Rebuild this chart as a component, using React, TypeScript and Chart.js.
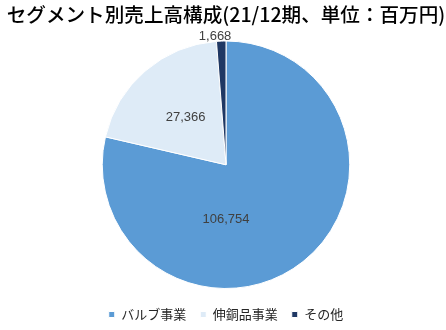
import React, { useEffect, useRef } from "react";
import { Chart, registerables } from "chart.js";

Chart.register(...registerables);

const titleText = "セグメント別売上高構成(21/12期、単位：百万円)";
const segments = ["バルブ事業", "伸銅品事業", "その他"];
const sales = [106754, 27366, 1668];
const colors = ["#5B9BD5", "#DEEBF7", "#1F3864"];

// label placement style per slice: fixed angle (deg from top, clockwise) or bisector, & radius factor
const labelPlacement = [
  { absAngle: 180 as number | null, r: 0.44 },
  { absAngle: null as number | null, r: 0.5 },
  { absAngle: null as number | null, r: 1.03 },
];

const labelPlugin = {
  id: "sliceLabels",
  afterLayout(chart: any) {
    if (chart.legend) {
      chart.legend.top += 5;
      chart.legend.bottom += 5;
    }
  },
  afterDatasetsDraw(chart: any) {
    const meta = chart.getDatasetMeta(0);
    const ctx = chart.ctx;
    ctx.save();
    ctx.font = "13px 'Liberation Sans', Arial, sans-serif";
    ctx.fillStyle = "#404040";
    ctx.textAlign = "center";
    ctx.textBaseline = "middle";
    meta.data.forEach((arc: any, i: number) => {
      const p = arc.getProps(["x", "y", "startAngle", "endAngle", "outerRadius"], true);
      const pl = labelPlacement[i];
      let ang = (p.startAngle + p.endAngle) / 2;
      if (pl.absAngle !== null) ang = ((pl.absAngle - 90) * Math.PI) / 180;
      const rr = p.outerRadius * pl.r;
      let x = p.x + Math.cos(ang) * rr;
      let y = p.y + Math.sin(ang) * rr;
      if (pl.r > 1) {
        y -= 1;
        x -= 6;
      }
      ctx.fillText(sales[i].toLocaleString("en-US"), x, y);
    });
    ctx.restore();
  },
};

export default function App() {
  const ref = useRef<HTMLCanvasElement | null>(null);
  useEffect(() => {
    document.body.style.margin = "0";
    const chart = new Chart(ref.current!, {
      type: "pie",
      data: {
        labels: segments,
        datasets: [
          {
            data: sales,
            backgroundColor: colors,
            borderColor: "#ffffff",
            borderWidth: 1,
          },
        ],
      },
      options: {
        responsive: false,
        animation: false,
        layout: { padding: { left: 6, right: 0, top: 0, bottom: 4 } },
        plugins: {
          title: {
            display: true,
            text: titleText,
            color: "#000000",
            font: { family: "'Noto Sans CJK JP', sans-serif", size: 19.6, weight: "500" },
            padding: { top: 3, bottom: 14 },
          },
          legend: {
            position: "bottom",
            labels: {
              boxWidth: 6,
              boxHeight: 6,
              padding: 14,
              color: "#262626",
              font: { family: "'Noto Sans CJK JP', sans-serif", size: 13 },
            },
          },
          tooltip: { enabled: false },
        },
      },
      plugins: [labelPlugin],
    });
    return () => chart.destroy();
  }, []);
  return (
    <div style={{ width: 446, height: 330 }}>
      <canvas ref={ref} width={446} height={330} />
    </div>
  );
}
